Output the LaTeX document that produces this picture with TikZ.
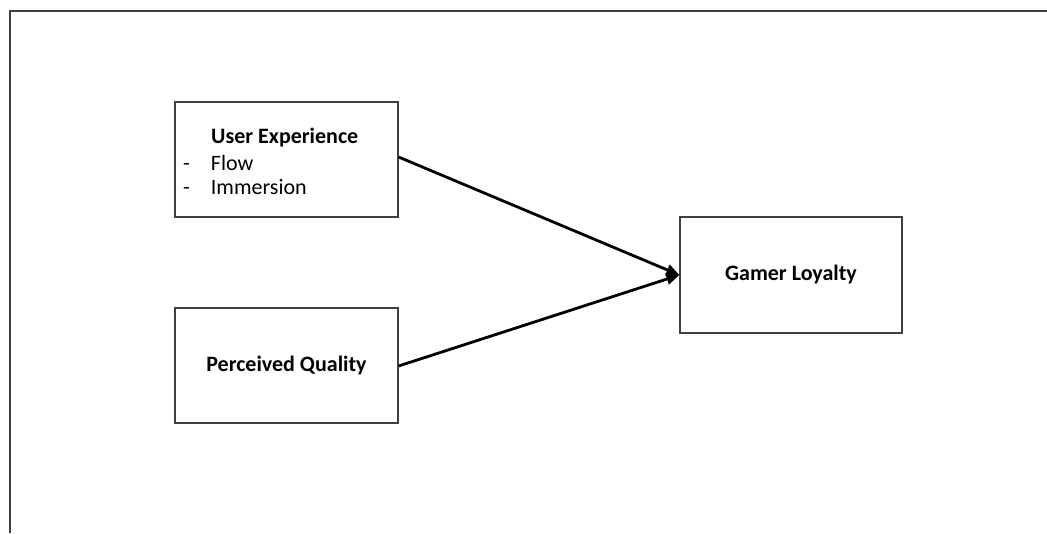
\documentclass[tikz,border=0pt]{standalone}
\usepackage{fontspec}
\setmainfont{Carlito}
\usetikzlibrary{arrows.meta}

\begin{document}
\begin{tikzpicture}[x=1pt,y=-1pt,
    box/.style={draw=black!75,line width=1.2pt,minimum width=223pt,minimum height=115pt,inner sep=0pt,fill=white},
    link/.style={line width=2.8pt,-{Triangle[length=13pt,width=11pt]}},
    every node/.append style={font=\fontsize{22}{26}\selectfont}]
            \useasboundingbox (0,0) rectangle (1047,533);
            \draw [black!75,line width=1.3pt] (10,533) -- (10,11) -- (1047,11);
            \node [box](ux) at (286.5,159.5) {};
            \node [anchor=west,inner sep=0pt,font=\fontsize{22}{26}\selectfont\bfseries] at (211,138) {User Experience};
            \node [anchor=west,inner sep=0pt] at (183,163) {-\hspace{21pt}Flow};
            \node [anchor=west,inner sep=0pt] at (183,187) {-\hspace{21pt}Immersion};
            \node [box,font=\fontsize{22}{26}\selectfont\bfseries](pq) at (286.5,365.5) {Perceived Quality};
            \node [box,minimum width=222pt,minimum height=116pt,font=\fontsize{22}{26}\selectfont\bfseries](gl) at (791,275) {Gamer Loyalty};
            \draw [link](ux.east |- 0,157)to(gl.west);
            \draw [link](pq.east |- 0,366)to(gl.west);
        \end{tikzpicture}
\end{document}
